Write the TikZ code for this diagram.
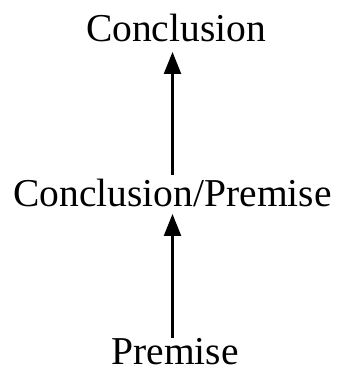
\documentclass[tikz,border=0pt]{standalone}
\usepackage{fontspec}
\setmainfont{Liberation Serif}
\usetikzlibrary{arrows.meta,calc}
\begin{document}
\begin{tikzpicture}[x=1pt,y=1pt,
  lbl/.style={anchor=base,inner sep=0pt,font=\fontsize{39.5}{47}\selectfont},
  arr/.style={line width=2.5pt,-{Triangle[length=22pt,width=17pt]}}]
\useasboundingbox (0,0) rectangle (337,372);
\node[lbl] (c) at (176,330) {Conclusion};
\node[lbl] (cp) at (172.5,165) {Conclusion/Premise};
\node[lbl] (p) at (175,7) {Premise};
\draw[arr] ($(p.base -| cp.base)+(0,27)$) -- ($(cp.base)+(0,-7)$);
\draw[arr] ($(cp.base)+(0,32)$) -- ($(c.base -| cp.base)+(0,-10)$);
\end{tikzpicture}
\end{document}
